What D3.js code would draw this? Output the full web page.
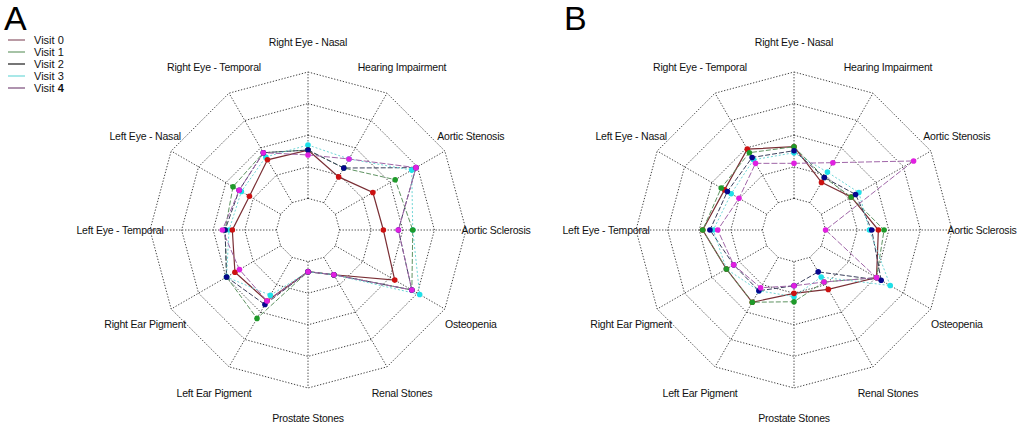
<!DOCTYPE html>
<html>
<head>
<meta charset="utf-8">
<script src="https://cdn.jsdelivr.net/npm/d3@7"></script>
<style>
  html, body { margin: 0; padding: 0; background: #fff; }
  svg { display: block; font-family: "Liberation Sans", Arial, sans-serif; }
</style>
</head>
<body>
<svg id="chart" width="1026" height="434"></svg>
<script>
// ---- data ----
const categories = ["Right Eye - Nasal", "Hearing Impairment", "Aortic Stenosis", "Aortic Sclerosis",
  "Osteopenia", "Renal Stones", "Prostate Stones", "Left Ear Pigment", "Right Ear Pigment",
  "Left Eye - Temporal", "Left Eye - Nasal", "Right Eye - Temporal"];
const visits = ["Visit 0", "Visit 1", "Visit 2", "Visit 3", "Visit 4"];
const ringTicks = [20, 40, 60, 80, 100];

// Panel A values (percent of outer ring)
const panelA_visit0 = [50.6, 38.8, 47.4, 47.7, 63.4, 32.7, 26.4, 51.9, 53.4, 47.9, 42.8, 51.3];
const panelA_visit1 = [50.6, 45.3, 63.7, 66.3, 75.9, 32.7, 26.4, 64.6, 59.5, 52.5, 54.8, 56.5];
const panelA_visit2 = [50.6, 45.3, 78.9, 57.2, 75.9, 32.7, 26.4, 54.5, 59.5, 52.5, 50.3, 56.5];
const panelA_visit3 = [53.8, 51.9, 75.8, 66.3, 81.6, 32.7, 26.4, 47.7, 59.5, 50.0, 48.7, 53.4];
const panelA_visit4 = [47.5, 51.9, 78.9, 57.2, 75.9, 32.7, 26.4, 51.9, 50.1, 54.2, 50.3, 56.5];

// Panel B values
const panelB_visit0 = [52.7, 34.8, 41.8, 53.4, 60.3, 43.4, 40.1, 52.8, 49.4, 57.8, 50.8, 59.1];
const panelB_visit1 = [52.7, 38.4, 41.8, 57.0, 60.3, 38.0, 45.4, 52.8, 49.4, 57.8, 53.2, 56.5];
const panelB_visit2 = [50.2, 38.4, 45.0, 49.2, 63.7, 30.6, 35.3, 44.4, 44.1, 53.2, 48.7, 53.0];
const panelB_visit3 = [48.9, 42.3, 47.4, 47.7, 70.3, 34.4, 42.2, 44.4, 49.4, 51.1, 45.9, 51.3];
const panelB_visit4 = [42.2, 49.2, 87.4, 20.0, 60.3, 38.0, 35.3, 42.2, 44.1, 48.3, 40.2, 48.7];

const panelLetters = ["A", "B"];

// ---- styles ----
const lineColors   = ["#7a2e34", "#5f9362", "#3a3f5c", "#6fd6d6", "#a066a8"];
const legendColors = ["#8c5868", "#6a9a6a", "#1a1a1a", "#70d8d8", "#7a4a7a"];
const markerColors = ["#cc1111", "#1f9a2a", "#06068c", "#1ee0e8", "#e020e0"];
const dashes = [null, "5,2", "5,2", "2,2", "6,2"];
const markerOrder = [3, 0, 1, 2, 4];

const svg = d3.select("#chart");
const R = 158;
const rScale = d3.scaleLinear().domain([0, 100]).range([0, R]);
const n = categories.length;
const angle = i => i * 2 * Math.PI / n;

const panels = [
  { cx: 308, cy: 230, letterX: 4, series: [panelA_visit0, panelA_visit1, panelA_visit2, panelA_visit3, panelA_visit4] },
  { cx: 794, cy: 230, letterX: 564, series: [panelB_visit0, panelB_visit1, panelB_visit2, panelB_visit3, panelB_visit4] }
];

const radial = d3.lineRadial()
  .angle((d, i) => angle(i))
  .radius(d => rScale(d))
  .curve(d3.curveLinearClosed);

panels.forEach((p, pi) => {
  const g = svg.append("g").attr("transform", `translate(${p.cx},${p.cy})`);

  // rings
  g.selectAll(".ring").data(ringTicks).enter().append("path")
    .attr("d", t => radial(categories.map(() => t)))
    .attr("fill", "none").attr("stroke", "#2a2a2a")
    .attr("stroke-width", 0.9).attr("stroke-dasharray", "1.3,1.7");

  // spokes
  g.selectAll(".spoke").data(categories).enter().append("line")
    .attr("x1", (d, i) => rScale(ringTicks[0]) * Math.sin(angle(i)))
    .attr("y1", (d, i) => -rScale(ringTicks[0]) * Math.cos(angle(i)))
    .attr("x2", (d, i) => rScale(ringTicks[ringTicks.length - 1]) * Math.sin(angle(i)))
    .attr("y2", (d, i) => -rScale(ringTicks[ringTicks.length - 1]) * Math.cos(angle(i)))
    .attr("stroke", "#2a2a2a").attr("stroke-width", 0.9).attr("stroke-dasharray", "1.3,1.7");

  // labels
  const labR = 188;
  g.selectAll(".lab").data(categories).enter().append("text")
    .attr("x", (d, i) => labR * Math.sin(angle(i)))
    .attr("y", (d, i) => -labR * Math.cos(angle(i)))
    .attr("text-anchor", "middle").attr("dominant-baseline", "central")
    .attr("font-size", 10.5).attr("fill", "#111")
    .attr("letter-spacing", -0.2)
    .text(d => d);

  // series lines
  p.series.forEach((vals, si) => {
    g.append("path")
      .attr("d", radial(vals))
      .attr("fill", "none").attr("stroke", lineColors[si])
      .attr("stroke-width", si === 0 ? 1.2 : 1)
      .attr("stroke-dasharray", dashes[si]);
  });
  // markers
  markerOrder.forEach(si => {
    const vals = p.series[si];
    g.selectAll(".m" + si).data(vals).enter().append("circle")
      .attr("cx", (d, i) => rScale(d) * Math.sin(angle(i)))
      .attr("cy", (d, i) => -rScale(d) * Math.cos(angle(i)))
      .attr("r", 2.8).attr("fill", markerColors[si]);
  });

  // panel letter
  svg.append("text").attr("x", p.letterX).attr("y", 30)
    .attr("font-size", 34).attr("fill", "#000").text(panelLetters[pi]);
});

// legend
const lg = svg.append("g");
visits.forEach((v, i) => {
  const y = 40 + i * 12;
  lg.append("line").attr("x1", 8).attr("x2", 25).attr("y1", y).attr("y2", y)
    .attr("stroke", legendColors[i]).attr("stroke-width", 1.2);
  const t = lg.append("text").attr("x", 34).attr("y", y).attr("dominant-baseline", "central")
    .attr("font-size", 11).attr("fill", "#111");
  const parts = v.split(" ");
  t.append("tspan").text(parts[0] + " ");
  t.append("tspan").attr("font-weight", i === 4 ? "bold" : "normal").text(parts[1]);
});
</script>
</body>
</html>
